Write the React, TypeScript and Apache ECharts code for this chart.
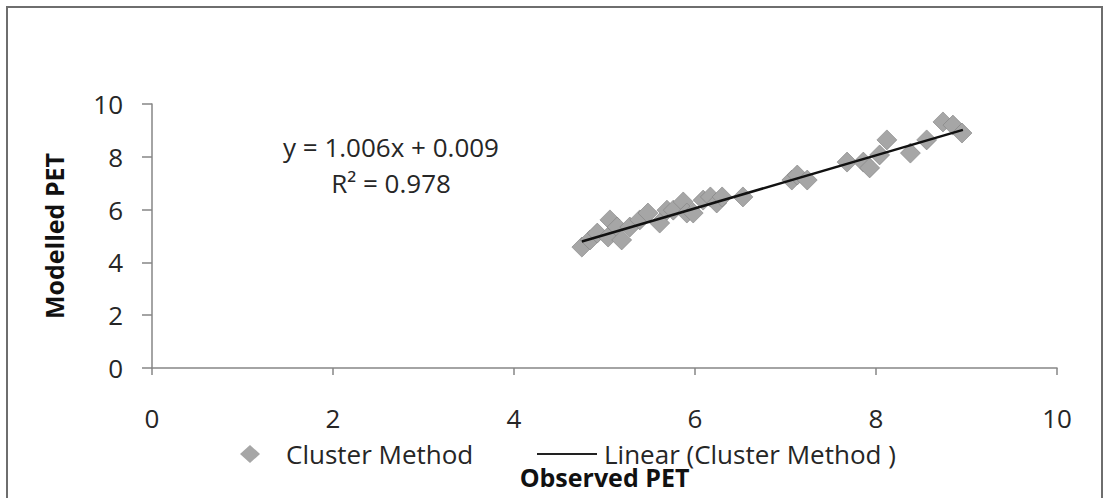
import React, { useEffect, useRef } from "react";
import * as echarts from "echarts";

const observedPET: number[] = [
  4.75, 4.84, 4.92, 5.04, 5.06, 5.14, 5.19, 5.28, 5.39, 5.48, 5.61, 5.69,
  5.76, 5.87, 5.91, 5.98, 6.09, 6.17, 6.24, 6.30, 6.53, 7.07, 7.13, 7.24,
  7.68, 7.86, 7.93, 8.04, 8.12, 8.38, 8.56, 8.74, 8.85, 8.95,
];
const modelledPET: number[] = [
  4.58, 4.85, 5.11, 4.96, 5.61, 5.34, 4.85, 5.34, 5.61, 5.87, 5.49, 5.98,
  5.98, 6.29, 5.87, 5.87, 6.36, 6.48, 6.25, 6.48, 6.48, 7.12, 7.31, 7.12,
  7.80, 7.80, 7.58, 8.07, 8.64, 8.14, 8.64, 9.32, 9.20, 8.90,
];
const trendX: number[] = [4.75, 8.96];
const trendY: number[] = [4.79, 9.02];
const axisTicks: number[] = [0, 2, 4, 6, 8, 10];
const scatterName = "Cluster Method";
const trendName = "Linear (Cluster Method )";
const equationText = "y = 1.006x + 0.009";
const r2Text = "R² = 0.978";

const FONT = "'Open Sans', 'Noto Sans', sans-serif";

export default function App() {
  const ref = useRef<HTMLDivElement>(null);

  useEffect(() => {
    document.body.style.margin = "0";
    if (!ref.current) return;
    const chart = echarts.init(ref.current, undefined, { renderer: "svg" });
    const scatterData = observedPET.map((x, i) => [x, modelledPET[i]]);
    const trendData = trendX.map((x, i) => [x, trendY[i]]);
    const axisColor = "#868686";
    const textColor = "#262626";

    chart.setOption({
      animation: false,
      backgroundColor: "#ffffff",
      textStyle: { fontFamily: FONT },
      grid: { left: 152, right: 50, top: 104, bottom: 130, containLabel: false },
      xAxis: {
        type: "value",
        min: axisTicks[0],
        max: axisTicks[axisTicks.length - 1],
        interval: 2,
        name: "Observed PET",
        nameLocation: "middle",
        nameGap: 97,
        nameTextStyle: { fontFamily: FONT, fontSize: 25, fontWeight: "bold", color: "#111", lineHeight: 24 },
        axisLine: { show: true, lineStyle: { color: axisColor, width: 1.5 } },
        axisTick: { show: true, inside: false, length: 7, lineStyle: { color: axisColor, width: 1.5 } },
        axisLabel: { fontFamily: FONT, fontSize: 26, color: textColor, margin: 37, lineHeight: 26 },
        splitLine: { show: false },
      },
      yAxis: {
        type: "value",
        min: axisTicks[0],
        max: axisTicks[axisTicks.length - 1],
        interval: 2,
        name: "Modelled PET",
        nameLocation: "middle",
        nameGap: 86,
        nameTextStyle: { fontFamily: FONT, fontSize: 25, fontWeight: "bold", color: "#111" },
        axisLine: { show: true, lineStyle: { color: axisColor, width: 1.5 } },
        axisTick: { show: true, inside: false, length: 10, lineStyle: { color: axisColor, width: 1.5 } },
        axisLabel: { fontFamily: FONT, fontSize: 26, color: textColor, margin: 29 },
        splitLine: { show: false },
      },
      legend: [
        {
          data: [{ name: scatterName, icon: "diamond" }],
          left: 240,
          top: 441,
          itemWidth: 20,
          itemHeight: 18,
          itemGap: 0,
          padding: 0,
          itemStyle: { color: "#a6a6a6", borderWidth: 0 },
          textStyle: { fontFamily: FONT, fontSize: 26, color: textColor, lineHeight: 24, padding: [0, 0, 0, 21] },
        },
        {
          data: [{ name: trendName, icon: "rect" }],
          left: 537,
          top: 441,
          itemWidth: 60,
          itemHeight: 2,
          itemGap: 0,
          padding: 0,
          itemStyle: { color: "#222222", borderWidth: 0 },
          textStyle: { fontFamily: FONT, fontSize: 26, color: textColor, lineHeight: 24, padding: [0, 0, 0, 2] },
        },
      ],
      series: [
        {
          name: scatterName,
          type: "scatter",
          data: scatterData,
          symbol: "diamond",
          symbolSize: 20,
          itemStyle: { color: "#a6a6a6", borderColor: "#808080", borderWidth: 0.6, opacity: 1 },
          z: 2,
        },
        {
          name: trendName,
          type: "line",
          data: trendData,
          symbol: "none",
          showSymbol: false,
          itemStyle: { color: "#111111" },
          lineStyle: { color: "#111111", width: 2.5 },
          z: 3,
        },
      ],
      graphic: [
        {
          type: "rect",
          shape: { x: 7, y: 7, width: 1095, height: 520 },
          style: { fill: "none", stroke: "#6e6e6e", lineWidth: 2 },
          silent: true,
          z: -1,
        },
        {
          type: "text",
          x: 391,
          y: 147,
          style: {
            text: equationText,
            fontFamily: FONT,
            fontSize: 26,
            fill: textColor,
            textAlign: "center",
            textVerticalAlign: "middle",
          },
        },
        {
          type: "text",
          x: 391,
          y: 183,
          style: {
            text: r2Text,
            fontFamily: FONT,
            fontSize: 26,
            fill: textColor,
            textAlign: "center",
            textVerticalAlign: "middle",
          },
        },
      ],
    });

    return () => {
      chart.dispose();
    };
  }, []);

  return <div ref={ref} style={{ width: 1107, height: 498 }} />;
}
